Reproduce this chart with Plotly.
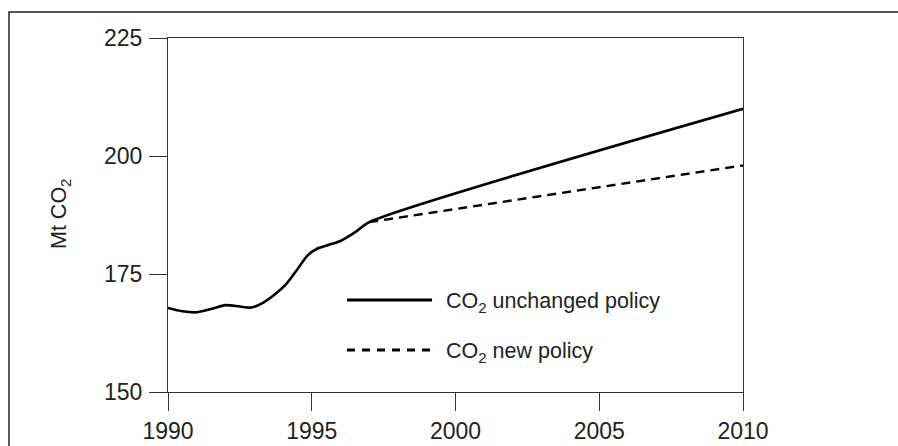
import plotly.graph_objects as go

# ---- data ----
years_unchanged = [1990, 1990.5, 1991, 1991.5, 1992, 1992.5, 1992.9, 1993.3, 1993.7,
                   1994.1, 1994.5, 1994.85, 1995.2, 1995.6, 1996, 1996.5, 1997, 2010]
co2_unchanged = [167.8, 167.1, 166.9, 167.6, 168.4, 168.1, 167.9, 168.9, 170.6,
                 172.8, 176.0, 178.9, 180.4, 181.2, 182.0, 183.8, 186.0, 210.0]
years_new = [1997, 2010]
co2_new = [186.0, 198.0]
x_ticks = [1990, 1995, 2000, 2005, 2010]
y_ticks = [150, 175, 200, 225]
legend_labels = ["CO<sub>2</sub> unchanged policy", "CO<sub>2</sub> new policy"]
y_title = "Mt CO<sub>2</sub>"

FONT = "Liberation Sans, Arial, sans-serif"
TXT = "#222222"
AX = "#333333"

fig = go.Figure()
fig.add_trace(go.Scatter(x=years_unchanged, y=co2_unchanged, mode="lines",
                         line=dict(color="black", width=2.6, shape="spline", smoothing=0.7),
                         showlegend=False, name="unchanged"))
fig.add_trace(go.Scatter(x=years_new, y=co2_new, mode="lines",
                         line=dict(color="black", width=2.4, dash="9px,6px"),
                         showlegend=False, name="new"))

W, H = 898, 446
L, R, T, B = 168, 155, 38, 54
pw, ph = W - L - R, H - T - B

def px(xp):
    return (xp - L) / pw

def py(yp):
    return (H - B - yp) / ph

shapes = [
    # outer frame (left + top visible)
    dict(type="rect", xref="paper", yref="paper", x0=px(9), x1=px(1200), y0=py(800), y1=py(12),
         line=dict(color="#222", width=1.5), layer="below"),
    # legend keys
    dict(type="line", xref="paper", yref="paper", x0=px(347), x1=px(432), y0=py(300), y1=py(300),
         line=dict(color="black", width=3)),
    dict(type="line", xref="paper", yref="paper", x0=px(347), x1=px(432), y0=py(350), y1=py(350),
         line=dict(color="black", width=3, dash="8px,7px")),
]

annotations = [
    dict(text=legend_labels[0], xref="paper", yref="paper", x=px(444), y=py(302),
         xanchor="left", yanchor="middle", showarrow=False, font=dict(size=21.5, color=TXT, family=FONT)),
    dict(text=legend_labels[1], xref="paper", yref="paper", x=px(444), y=py(352),
         xanchor="left", yanchor="middle", showarrow=False, font=dict(size=21.5, color=TXT, family=FONT)),
    dict(text=y_title, xref="paper", yref="paper", x=px(60), y=py(214),
         xanchor="center", yanchor="middle", textangle=-90, showarrow=False,
         font=dict(size=21.5, color=TXT, family=FONT)),
]

fig.update_layout(
    width=W, height=H,
    margin=dict(l=L, r=R, t=T, b=B, pad=0, autoexpand=False),
    paper_bgcolor="white", plot_bgcolor="white",
    font=dict(family=FONT, color=TXT),
    shapes=shapes, annotations=annotations,
    showlegend=False,
)
fig.update_xaxes(range=[1990, 2010], tickvals=x_ticks, ticktext=[str(v) for v in x_ticks],
                 automargin=False,
                 showgrid=False, zeroline=False, showline=True, mirror=True,
                 linecolor=AX, linewidth=1.3, ticks="outside", ticklen=18, tickwidth=1.3,
                 tickcolor=AX, tickfont=dict(size=23, color=TXT, family=FONT))
fig.update_yaxes(range=[150, 225], tickvals=y_ticks, ticktext=[str(v) for v in y_ticks],
                 automargin=False, ticklabelstandoff=2,
                 showgrid=False, zeroline=False, showline=True, mirror=True,
                 linecolor=AX, linewidth=1.3, ticks="outside", ticklen=18, tickwidth=1.3,
                 tickcolor=AX, tickfont=dict(size=23, color=TXT, family=FONT))

fig.write_html("out.html", config={"displayModeBar": False},
               post_script="document.body.style.margin='0';document.body.style.overflow='hidden';")
